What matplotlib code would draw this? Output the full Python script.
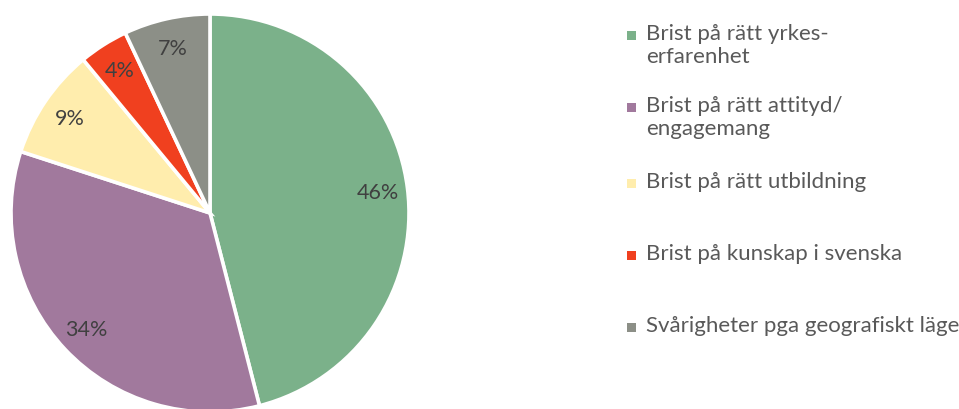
"""Pie chart: reasons (Swedish survey), five categories with a side legend."""

import matplotlib.pyplot as plt
from matplotlib.patches import Rectangle

labels = [
    "Brist på rätt yrkes-\nerfarenhet",
    "Brist på rätt attityd/\nengagemang",
    "Brist på rätt utbildning",
    "Brist på kunskap i svenska",
    "Svårigheter pga geografiskt läge",
]
shares = [46, 34, 9, 4, 7]
colors = ["#7BB18A", "#A1799D", "#FFEDAD", "#F0401F", "#8C8F87"]

plt.rcParams.update({"font.family": ["Lato", "DejaVu Sans"]})

W, H = 959, 410
fig = plt.figure(figsize=(W / 100, H / 100), dpi=100)

# pie centre ~ (210, 214) px, radius ~199 px
cx, cy, r = 210, 214, 199
ax = fig.add_axes([(cx - r) / W, (H - cy - r) / H, 2 * r / W, 2 * r / H])
ax.pie(
    shares,
    colors=colors,
    startangle=90,
    counterclock=False,
    autopct="%d%%",
    pctdistance=0.85,
    radius=1.0,
    wedgeprops={"edgecolor": "white", "linewidth": 2.6},
    textprops={"fontsize": 15.5, "color": "#404040"},
)
ax.set_xlim(-1, 1)
ax.set_ylim(-1, 1)
ax.set_aspect("equal")

# legend drawn by hand: Excel puts every entry in an equal-height slot
slot_y = [37, 109, 185, 257, 329]
for y, lab, c in zip(slot_y, labels, colors):
    fig.patches.append(Rectangle((627 / W, 1 - (y + 4) / H), 9 / W, 9 / H,
                                 transform=fig.transFigure, facecolor=c,
                                 edgecolor="none"))
    fig.text(646 / W, 1 - (y - 13) / H, lab, ha="left", va="top",
             fontsize=16, color="#595959", linespacing=1.2)

fig.savefig("out.png", dpi=100)
